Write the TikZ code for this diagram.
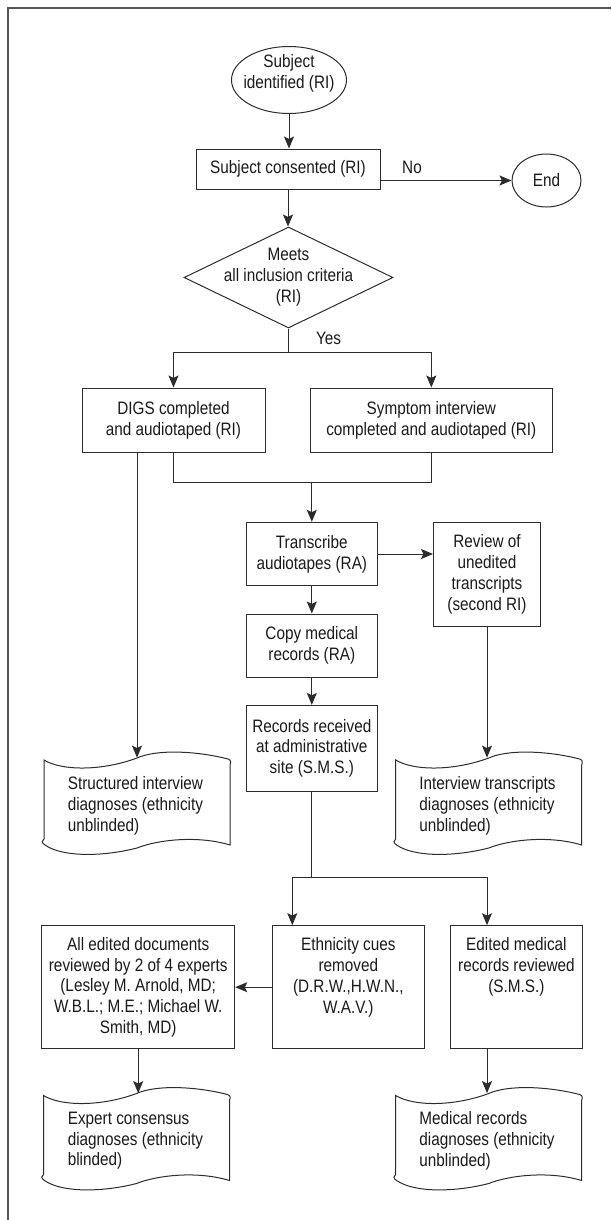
\documentclass[tikz,border=0pt]{standalone}
\usepackage{fontspec}
\setmainfont{Liberation Sans}[FakeStretch=0.85]
\usetikzlibrary{shapes.geometric,arrows.meta,calc}
\definecolor{linec}{HTML}{2C2C2C}
\definecolor{textc}{HTML}{1A1A1A}
\definecolor{framec}{HTML}{555555}
\newcommand{\figfont}{\fontsize{9}{10.4}\selectfont}
\newcommand{\docout}[1]{%
  \draw[ln, shift={(#1.center)}]
    (-93,-43) .. controls (-75,-32) and (-35,-32) .. (0,-45)
    .. controls (20,-54) and (60,-52) .. (91,-44)
    .. controls (94,-43) and (94,-41) .. (93,-38)
    -- (93,42)
    .. controls (60,32) and (20,37) .. (0,45)
    .. controls (-35,54) and (-75,54) .. (-92,42)
    .. controls (-96,40) and (-95,37) .. (-93,36) -- cycle;}
\tikzset{
  ln/.style={draw=linec, line width=0.5pt},
  arr/.style={draw=linec, line width=0.5pt, -{Stealth[length=6pt,width=5pt,inset=1.2pt]}},
  box/.style={rectangle, draw=linec, line width=0.5pt, inner sep=0pt, align=center, font=\figfont, text=textc},
  ell/.style={ellipse, draw=linec, line width=0.5pt, inner sep=0pt, align=center, font=\figfont, text=textc},
  txt/.style={inner sep=0pt, align=center, font=\figfont, text=textc},
  doct/.style={inner sep=0pt, align=left, anchor=west, font=\figfont, text=textc},
  docn/.style={rectangle, draw=none, inner sep=0pt, minimum width=93pt, minimum height=45pt},
  frame/.style={draw=framec, line width=1pt},
}
\begin{document}
\begin{tikzpicture}[x=0.5pt, y=-0.5pt]
\useasboundingbox (0,0) rectangle (611,1220);
\draw[frame] (611,8) -- (8,8) -- (8,1220);

% top part
\node[ell, minimum width=57.5pt, minimum height=33.5pt] (ident) at (289,80) {};
\node[txt] (identt) at (289,73) {Subject\\identified (RI)};
\node[box, minimum width=92pt, minimum height=20pt] (consent) at (288,169) {Subject consented (RI)};
\node[ell, minimum width=34.5pt, minimum height=26.5pt] (endn) at (546.5,180.5) {End};
\node[diamond, draw=linec, line width=0.5pt, inner sep=0pt, minimum width=104.5pt, minimum height=50.5pt] (meets) at (288.5,277.5) {};
\node[txt] (meetst) at (288.5,277) {Meets\\all inclusion criteria\\(RI)};
\node[txt] (nolab) at (412,167) {No};
\node[txt] (yeslab) at (328.5,338) {Yes};

\node[box, minimum width=91.5pt, minimum height=32pt] (digs) at (173.5,420) {DIGS completed\\and audiotaped (RI)};
\node[box, minimum width=120.7pt, minimum height=32pt] (symp) at (431.3,420) {Symptom interview\\completed and audiotaped (RI)};

% middle
\node[box, minimum width=65.5pt, minimum height=31.7pt] (trans) at (311.8,554) {Transcribe\\audiotapes (RA)};
\node[box, minimum width=53.5pt, minimum height=52.2pt] (review) at (487,574.5) {Review of\\unedited\\transcripts\\(second RI)};
\node[box, minimum width=65.5pt, minimum height=31.5pt] (copy) at (311.8,645.5) {Copy medical\\records (RA)};
\node[box, minimum width=65.5pt, minimum height=42.8pt] (recs) at (311.8,748.2) {Records received\\at administrative\\site (S.M.S.)};

% documents (upper)
\node[docn] (struct) at (137,803) {};
\docout{struct}
\node[doct] (structt) at (67.4,806) {Structured interview\\diagnoses (ethnicity\\unblinded)};
\node[docn] (interv) at (488.7,803) {};
\docout{interv}
\node[doct] (intervt) at (419,806) {Interview transcripts\\diagnoses (ethnicity\\unblinded)};

% lower boxes
\node[box, minimum width=96.5pt, minimum height=61.5pt] (alled) at (138.2,987.2) {All edited documents\\reviewed by 2 of 4 experts\\(Lesley M. Arnold, MD;\\W.B.L.; M.E.; Michael W.\\Smith, MD)};
\node[box, minimum width=76.2pt, minimum height=61.5pt] (ethn) at (348.6,987.2) {};
\node[txt] (ethnt) at (348.3,977.5) {Ethnicity cues\\removed\\(D.R.W.,H.W.N.,\\W.A.V.)};
\node[box, minimum width=66pt, minimum height=61.5pt] (editm) at (516.5,987.2) {};
\node[txt] (editmt) at (516.4,967) {Edited medical\\records reviewed\\(S.M.S.)};

% documents (lower)
\node[docn] (expert) at (136.5,1138.5) {};
\docout{expert}
\node[doct] (expertt) at (67.4,1140.7) {Expert consensus\\diagnoses (ethnicity\\blinded)};
\node[docn] (medical) at (488.7,1138.5) {};
\docout{medical}
\node[doct] (medicalt) at (419,1140.7) {Medical records\\diagnoses (ethnicity\\unblinded)};

% connectors
\coordinate (split) at (288.5,352);
\coordinate (merge) at (311.8,482.7);
\coordinate (split2) at (311.8,877.3);
\coordinate (s2l) at (292.3,877.3);
\coordinate (s2r) at (487,877.3);

\draw[arr] (ident.south) -- (ident.south |- consent.north);
\draw[arr] (consent.east |- endn.west) -- (endn.west);
\draw[arr] (consent.south) -- (consent.south |- meets.north);
\draw[ln] (meets.south) -- (split);
\draw[arr] (split) -| (digs.north);
\draw[arr] (split) -| (symp.north);
\draw[arr] (digs.south -| struct.north) -- (struct.north);
\draw[ln] (digs.south) |- (merge) -| (symp.south);
\draw[arr] (merge) -- (trans.north);
\draw[arr] (trans.east) -- (trans.east -| review.west);
\draw[arr] (trans.south) -- (copy.north);
\draw[arr] (copy.south) -- (recs.north);
\draw[arr] (review.south) -- (review.south |- interv.north);
\draw[ln] (recs.south) -- (split2);
\draw[arr] (split2) -- (s2l) -- (s2l |- ethn.north);
\draw[arr] (split2) -- (s2r) -- (s2r |- editm.north);
\draw[arr] (ethn.west) -- (alled.east);
\draw[arr] (alled.south) -- (alled.south |- expert.north);
\draw[arr] (s2r |- editm.south) -- (s2r |- medical.north);
\end{tikzpicture}
\end{document}
